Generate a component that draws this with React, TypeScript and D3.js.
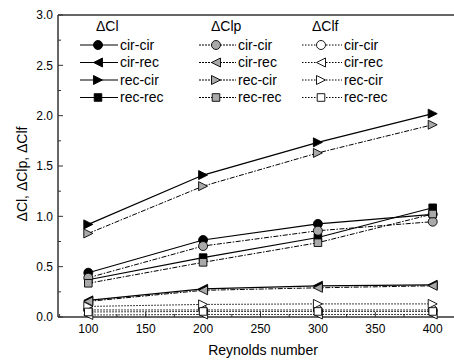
import React from 'react';
import * as d3 from 'd3';

const reynolds = [100, 200, 300, 400];
const pairs = ['cir-cir', 'cir-rec', 'rec-cir', 'rec-rec'];

// ΔCl
const clCirCir = [0.44, 0.765, 0.925, 1.02];
const clCirRec = [0.165, 0.28, 0.31, 0.32];
const clRecCir = [0.92, 1.41, 1.735, 2.02];
const clRecRec = [0.37, 0.59, 0.79, 1.085];
// ΔClp
const clpCirCir = [0.39, 0.705, 0.857, 0.947];
const clpCirRec = [0.155, 0.265, 0.29, 0.31];
const clpRecCir = [0.83, 1.3, 1.63, 1.91];
const clpRecRec = [0.335, 0.543, 0.738, 1.023];
// ΔClf
const clfCirCir = [0.07, 0.07, 0.07, 0.07];
const clfCirRec = [0.02, 0.025, 0.025, 0.025];
const clfRecCir = [0.105, 0.125, 0.13, 0.13];
const clfRecRec = [0.05, 0.055, 0.055, 0.055];

const xTicks = [100, 150, 200, 250, 300, 350, 400];
const yTicks = [0, 0.5, 1.0, 1.5, 2.0, 2.5, 3.0];

const font = 'Arial, "Liberation Sans", sans-serif';

const groups = [
  { title: 'ΔCl', series: [clCirCir, clCirRec, clRecCir, clRecRec], fill: '#000', dash: 'none', lx: 80, mx: 98, tx: 120, hx: 96 },
  { title: 'ΔClp', series: [clpCirCir, clpCirRec, clpRecCir, clpRecRec], fill: '#a9a9a9', dash: '5,1.5,1.5,1.5', lx: 199, mx: 216, tx: 238, hx: 211 },
  { title: 'ΔClf', series: [clfCirCir, clfCirRec, clfRecCir, clfRecRec], fill: '#fff', dash: '1.5,1.5', lx: 302, mx: 321, tx: 344, hx: 312 },
];

const markerPath = (kind: number) => {
  const s = 4.5;
  if (kind === 0) return d3.symbol().type(d3.symbolCircle).size(Math.PI * s * s)() as string;
  if (kind === 1) return `M${-s},0L${s},${-s}L${s},${s}Z`;
  if (kind === 2) return `M${s},0L${-s},${-s}L${-s},${s}Z`;
  return `M${-3.8},${-3.8}H3.8V3.8H-3.8Z`;
};

export default function App() {
  const x = d3.scaleLinear().domain([100, 400]).range([88.3, 432.7]);
  const y = d3.scaleLinear().domain([0, 3]).range([317, 15]);
  const left = 58, right = 454, top = 15, bottom = 317;
  const line = d3.line<number>().x((_, i) => x(reynolds[i])).y((d) => y(d));
  const minorX = d3.range(75, 451, 25).filter((v) => v % 50 !== 0);
  const minorY = d3.range(0.25, 3, 0.5);
  const rows = [45, 62.5, 80, 97.5];

  return (
    <svg width={454} height={361} style={{ position: 'absolute', left: 0, top: 0, background: '#fff' }} fontFamily={font}>
      {/* frame */}
      <line x1={left} x2={right} y1={top} y2={top} stroke="#333" strokeWidth={1.5} />
      <line x1={left} x2={right} y1={bottom} y2={bottom} stroke="#333" strokeWidth={1.5} />
      <line x1={left} x2={left} y1={top} y2={bottom} stroke="#333" strokeWidth={1.5} />

      {/* y axis ticks */}
      {yTicks.map((t) => (
        <g key={'y' + t}>
          <line x1={left} x2={left + 5} y1={y(t)} y2={y(t)} stroke="#333" />
          <text x={53} y={y(t)} dy="0.35em" textAnchor="end" fontSize={12}>{t.toFixed(1)}</text>
        </g>
      ))}
      {minorY.map((t) => (
        <line key={'my' + t} x1={left} x2={left + 3} y1={y(t)} y2={y(t)} stroke="#333" />
      ))}

      {/* x axis ticks */}
      {xTicks.map((t) => (
        <g key={'x' + t}>
          <line x1={x(t)} x2={x(t)} y1={bottom} y2={bottom - 5} stroke="#333" />
          <text x={x(t)} y={333} textAnchor="middle" fontSize={12}>{t}</text>
        </g>
      ))}
      {minorX.map((t) => (
        <line key={'mx' + t} x1={x(t)} x2={x(t)} y1={bottom} y2={bottom - 3} stroke="#333" />
      ))}

      <text x={263} y={355} textAnchor="middle" fontSize={14}>Reynolds number</text>
      <text transform="translate(27,174) rotate(-90)" textAnchor="middle" fontSize={14}>ΔCl, ΔClp, ΔClf</text>

      {/* series */}
      {groups.map((g, gi) => (
        <g key={'s' + gi}>
          {g.series.map((vals, si) => (
            <g key={si}>
              <path d={line(vals) as string} fill="none" stroke="#000" strokeWidth={gi === 0 ? 1.2 : 1} strokeDasharray={g.dash} />
              {vals.map((v, i) => (
                <path key={i} d={markerPath(si)} transform={`translate(${x(reynolds[i])},${y(v)})`} fill={g.fill} stroke="#000" strokeWidth={0.9} />
              ))}
            </g>
          ))}
        </g>
      ))}

      {/* legend */}
      {groups.map((g, gi) => (
        <g key={'l' + gi}>
          <text x={g.hx} y={31} fontSize={14}>{g.title}</text>
          {pairs.map((p, si) => (
            <g key={p}>
              <line x1={g.lx} x2={g.tx - 2} y1={rows[si]} y2={rows[si]} stroke="#000" strokeWidth={gi === 0 ? 1.2 : 1} strokeDasharray={gi === 1 ? '2,1' : g.dash} />
              <path d={markerPath(si)} transform={`translate(${g.mx},${rows[si]})`} fill={g.fill} stroke="#000" strokeWidth={0.9} />
              <text x={g.tx} y={rows[si]} dy="0.35em" fontSize={14}>{p}</text>
            </g>
          ))}
        </g>
      ))}
    </svg>
  );
}
